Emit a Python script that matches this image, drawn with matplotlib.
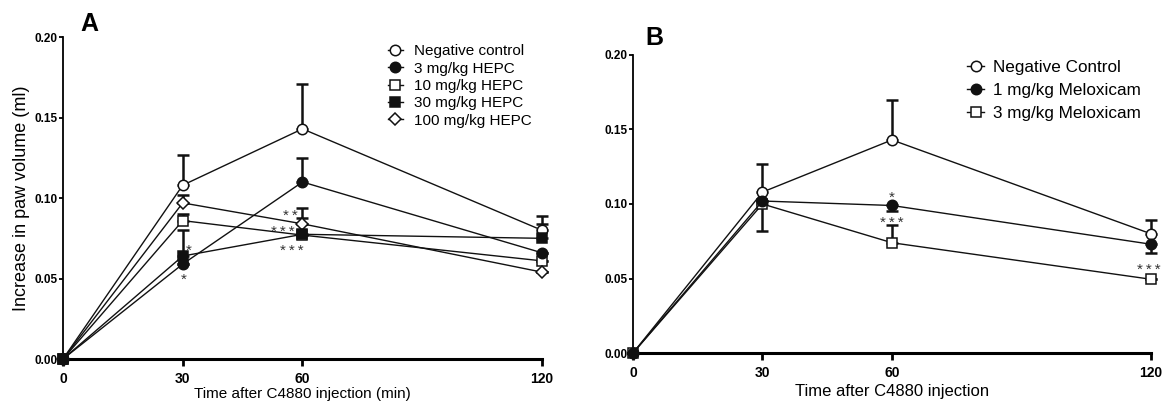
"""
Paw edema time course: HEPC doses (A) and meloxicam (B).
"""

import matplotlib

matplotlib.use("Agg")  # headless
import matplotlib.pyplot as plt

plt.rcParams["font.family"] = ["Liberation Sans", "DejaVu Sans"]

TIME = [0, 30, 60, 120]

# panel A - HEPC
A_LABELS = ["Negative control", "3 mg/kg HEPC", "10 mg/kg HEPC", "30 mg/kg HEPC", "100 mg/kg HEPC"]
A_MARKERS = ["o", "o", "s", "s", "D"]
A_FILLED = [False, True, False, True, False]
A_MEANS = [
    [0.0, 0.108, 0.143, 0.080],
    [0.0, 0.059, 0.110, 0.066],
    [0.0, 0.086, 0.077, 0.061],
    [0.0, 0.064, 0.0775, 0.075],
    [0.0, 0.097, 0.084, 0.054],
]
A_ERR_UP = [
    [0.0, 0.019, 0.028, 0.009],
    [0.0, 0.0, 0.015, 0.0],
    [0.0, 0.004, 0.0, 0.0],
    [0.0, 0.016, 0.010, 0.009],
    [0.0, 0.005, 0.010, 0.0],
]
A_ERR_DOWN = [
    [0.0, 0.0, 0.0, 0.0],
    [0.0, 0.0, 0.0, 0.0],
    [0.0, 0.0, 0.0, 0.0],
    [0.0, 0.0, 0.0, 0.0],
    [0.0, 0.0, 0.0, 0.0],
]
A_STARS = [(31.5, 0.067, "*"), (30.3, 0.049, "*"), (57.0, 0.089, "**"),
           (55.0, 0.079, "***"), (57.3, 0.067, "***")]

# panel B - meloxicam
B_LABELS = ["Negative Control", "1 mg/kg Meloxicam", "3 mg/kg Meloxicam"]
B_MARKERS = ["o", "o", "s"]
B_FILLED = [False, True, False]
B_MEANS = [
    [0.0, 0.108, 0.143, 0.080],
    [0.0, 0.102, 0.099, 0.073],
    [0.0, 0.100, 0.074, 0.0495],
]
B_ERR_UP = [
    [0.0, 0.019, 0.027, 0.009],
    [0.0, 0.0, 0.0, 0.0],
    [0.0, 0.0, 0.012, 0.0],
]
B_ERR_DOWN = [
    [0.0, 0.0, 0.0, 0.0],
    [0.0, 0.0, 0.004, 0.006],
    [0.0, 0.018, 0.0, 0.0],
]
B_STARS = [(60.0, 0.104, "*"), (60.0, 0.087, "***"), (119.4, 0.056, "***")]


def draw_panel(ax, means, err_up, err_down, labels, markers, filled, stars, ms):
    for m, up, dn in zip(means, err_up, err_down):
        ax.errorbar(TIME, m, yerr=[dn, up], fmt="none", ecolor="#111111",
                    elinewidth=1.8, capsize=4, capthick=1.8, zorder=2, clip_on=False)
    for i, m in enumerate(means):
        ax.plot(TIME, m, color="#111111", linewidth=1.0, marker=markers[i],
                markersize=ms * (0.8 if markers[i] == "D" else 1.0),
                markerfacecolor="#111111" if filled[i] else "white",
                markeredgecolor="#111111", markeredgewidth=1.1,
                label=labels[i], zorder=(4 if filled[i] else 3) + i * 0.1, clip_on=False)
    for x, y, s in stars:
        ax.text(x, y, "\u2009".join(s), ha="center", va="center", fontsize=11,
                color="#333333", zorder=5, family=["Liberation Sans", "DejaVu Sans"])

    ax.set_xlim(0, 120)
    ax.set_ylim(0, 0.20)
    ax.set_xticks(TIME)
    ax.set_yticks([0.0, 0.05, 0.10, 0.15, 0.20])
    ax.set_yticklabels(["0.00", "0.05", "0.10", "0.15", "0.20"])
    ax.spines["top"].set_visible(False)
    ax.spines["right"].set_visible(False)
    ax.spines["left"].set_linewidth(1.3)
    ax.spines["bottom"].set_linewidth(2.2)
    ax.tick_params(axis="y", labelsize=8.5, width=1.3, length=3, pad=1)
    ax.tick_params(axis="x", labelsize=10, width=2.0, length=5, pad=4)
    for lab in ax.get_xticklabels() + ax.get_yticklabels():
        lab.set_fontweight("bold")


fig = plt.figure(figsize=(11.64, 4.08), dpi=100)
ax_a = fig.add_axes([0.0541, 0.120, 0.4115, 0.789])
ax_b = fig.add_axes([0.5438, 0.1348, 0.4450, 0.7304])

draw_panel(ax_a, A_MEANS, A_ERR_UP, A_ERR_DOWN, A_LABELS, A_MARKERS, A_FILLED, A_STARS, 7.5)
draw_panel(ax_b, B_MEANS, B_ERR_UP, B_ERR_DOWN, B_LABELS, B_MARKERS, B_FILLED, B_STARS, 7.5)

ax_a.set_ylabel("Increase in paw volume (ml)", fontsize=13, labelpad=3)
ax_a.set_xlabel("Time after C4880 injection (min)", fontsize=11, labelpad=1)
ax_b.set_xlabel("Time after C4880 injection", fontsize=12, labelpad=3)

ax_a.legend(loc="upper left", bbox_to_anchor=(0.665, 0.997), frameon=False, fontsize=11,
            handlelength=1.0, handletextpad=0.7, labelspacing=0.22, borderaxespad=0)
ax_b.legend(loc="upper left", bbox_to_anchor=(0.632, 1.005), frameon=False, fontsize=12.3,
            handlelength=1.0, handletextpad=0.5, labelspacing=0.45, borderaxespad=0)

fig.text(0.077, 0.941, "A", fontsize=18, fontweight="bold", ha="center", va="center")
fig.text(0.562, 0.907, "B", fontsize=18, fontweight="bold", ha="center", va="center")

plt.savefig("out.png", dpi=100)
plt.close()
